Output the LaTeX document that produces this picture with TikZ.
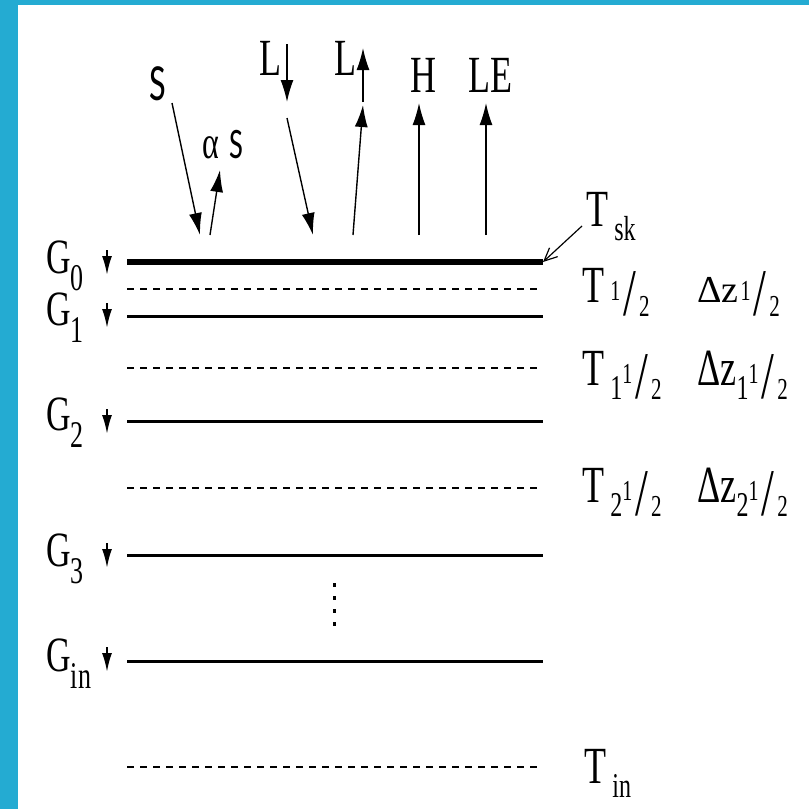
\documentclass[tikz,border=0pt]{standalone}
\usepackage{fontspec}
\setmainfont{Liberation Serif}
\newfontfamily\sansS{Carlito}
\usepackage{xcolor}
\usetikzlibrary{arrows.meta}

\definecolor{frameblue}{RGB}{36,171,210}

% tall letters, as in the scanned figure
\newcommand{\tallbox}[1]{\scalebox{1}[1.45]{#1}}
\newcommand{\gsub}[1]{\raisebox{-6pt}{\fontsize{13}{13}\selectfont #1}}
\newcommand{\tsub}[1]{\raisebox{-5pt}{\fontsize{12}{12}\selectfont #1}}
\newcommand{\halfsub}{\raisebox{0.5pt}{\fontsize{10}{10}\selectfont 1}\kern1.5pt\raisebox{-4.5pt}{\fontsize{23}{23}\selectfont /}\kern1.5pt\raisebox{-5pt}{\fontsize{10.5}{10.5}\selectfont 2}}

\begin{document}
\begin{tikzpicture}[
	x=0.5pt, y=-0.5pt,
	layer/.style={line width=1.5pt},
	skin/.style={line width=3pt},
	half/.style={line width=1.4pt, dash pattern=on 3.5pt off 3pt},
	flux/.style={-{Latex[length=11pt,width=6.5pt]}, line width=0.7pt},
	gflux/.style={-{Latex[length=9.5pt,width=5pt]}, line width=1pt},
	lbl/.style={inner sep=0pt, anchor=base west, font=\fontsize{18}{18}\selectfont},
	glbl/.style={lbl, font=\fontsize{17}{17}\selectfont},
	slbl/.style={lbl, font=\sansS\fontsize{18}{18}\selectfont}
	]
	
	% frame
	\fill[frameblue] (0,0) rectangle (18,809);
	\fill[frameblue] (0,0) rectangle (809,5);
	\useasboundingbox (0,0) rectangle (809,809);
	
	% Levels
	\coordinate (skinW) at (127,262); \coordinate (skinE) at (543,262);
	\coordinate (h0W) at (127,289);   \coordinate (h0E) at (543,289);
	\coordinate (g1W) at (127,316);   \coordinate (g1E) at (543,316);
	\coordinate (h1W) at (127,368);   \coordinate (h1E) at (543,368);
	\coordinate (g2W) at (127,421);   \coordinate (g2E) at (543,421);
	\coordinate (h2W) at (127,488);   \coordinate (h2E) at (543,488);
	\coordinate (g3W) at (127,555);   \coordinate (g3E) at (543,555);
	\coordinate (ginW) at (127,661);  \coordinate (ginE) at (543,661);
	\coordinate (hinW) at (127,767);  \coordinate (hinE) at (543,767);
	
	\draw[skin] (skinW) -- (skinE);
	\draw[half] (h0W) -- (h0E);
	\draw[layer] (g1W) -- (g1E);
	\draw[half] (h1W) -- (h1E);
	\draw[layer] (g2W) -- (g2E);
	\draw[half] (h2W) -- (h2E);
	\draw[layer] (g3W) -- (g3E);
	\draw[layer] (ginW) -- (ginE);
	\draw[half] (hinW) -- (hinE);
	
	% dots between G3 and Gin
	\coordinate (dotA) at (334,583); \coordinate (dotB) at (334,630);
	\draw[line width=1.5pt, dash pattern=on 2pt off 4.5pt] (dotA) -- (dotB);
	
	% Ground heat flux labels
	\node[glbl] (G0) at (46,273) {\tallbox{G\gsub{0}}};
	\node[glbl] (G1) at (46,325) {\tallbox{G\gsub{1}}};
	\node[glbl] (G2) at (46,430) {\tallbox{G\gsub{2}}};
	\node[glbl] (G3) at (46,566) {\tallbox{G\gsub{3}}};
	\node[glbl] (Gin) at (46,671) {\tallbox{G\gsub{in}}};
	
	\coordinate (q0a) at (107,250); \coordinate (q0b) at (107,275);
	\coordinate (q1a) at (107,303); \coordinate (q1b) at (107,328);
	\coordinate (q2a) at (107,409); \coordinate (q2b) at (107,434);
	\coordinate (q3a) at (107,543); \coordinate (q3b) at (107,568);
	\coordinate (qina) at (107,647); \coordinate (qinb) at (107,672);
	\draw[gflux] (q0a) -- (q0b);
	\draw[gflux] (q1a) -- (q1b);
	\draw[gflux] (q2a) -- (q2b);
	\draw[gflux] (q3a) -- (q3b);
	\draw[gflux] (qina) -- (qinb);
	
	% Temperatures and thicknesses
	\node[lbl] (Tsk) at (586,226) {\tallbox{T\hspace{3pt}\tsub{sk}}};
	\node[lbl] (T0) at (582,302) {\tallbox{T\hspace{3pt}\halfsub}};
	\node[lbl] (dz0) at (697,302) {{\fontsize{19}{19}\selectfont Δz}\kern1pt\tallbox{\halfsub}};
	\node[lbl] (T1) at (582,385) {\tallbox{T\hspace{3pt}\tsub{1}\halfsub}};
	\node[lbl] (dz1) at (697,385) {\tallbox{Δz\tsub{1}\halfsub}};
	\node[lbl] (T2) at (582,502) {\tallbox{T\hspace{3pt}\tsub{2}\halfsub}};
	\node[lbl] (dz2) at (697,502) {\tallbox{Δz\tsub{2}\halfsub}};
	\node[lbl] (Tin) at (584,783) {\tallbox{T\hspace{3pt}\tsub{in}}};
	
	\draw[-{Straight Barb[length=6.5pt,width=6pt]}, line width=0.6pt] ([xshift=-2pt]Tsk.base west) -- (skinE);
	
	% Surface fluxes
	\node[slbl] (S) at (149,100) {\tallbox{S}};
	\node[lbl] (aS) at (202,158) {\tallbox{{\fontsize{16}{16}\selectfont α}\hspace{5pt}{\sansS\fontsize{15}{15}\selectfont S}}};
	\node[lbl] (Ldn) at (259,75) {\tallbox{L}};
	\node[lbl] (Lup) at (334,75) {\tallbox{L}};
	\node[lbl] (H) at (410,92) {\tallbox{H}};
	\node[lbl] (LE) at (468,92) {\tallbox{LE}};
	
	\coordinate (sIn) at (172,103);  \coordinate (sHit) at (200,235);
	\coordinate (aOut) at (210,235); \coordinate (aTop) at (220,170);
	\coordinate (lIn) at (287,118);  \coordinate (lHit) at (313,235);
	\coordinate (lOut) at (353,235); \coordinate (lTop) at (363,105);
	\coordinate (hOut) at (419,235); \coordinate (hTop) at (419,103);
	\coordinate (eOut) at (486,235); \coordinate (eTop) at (486,103);
	\coordinate (ldA) at (287,44);   \coordinate (ldB) at (287,102);
	\coordinate (luA) at (363,102);  \coordinate (luB) at (363,48);
	
	\draw[flux] (sIn) -- (sHit);
	\draw[flux] (aOut) -- (aTop);
	\draw[flux] (lIn) -- (lHit);
	\draw[flux] (lOut) -- (lTop);
	\draw[flux] (hOut) -- (hTop);
	\draw[flux] (eOut) -- (eTop);
	\draw[flux] (ldA) -- (ldB);
	\draw[flux] (luA) -- (luB);
	
\end{tikzpicture}
\end{document}
